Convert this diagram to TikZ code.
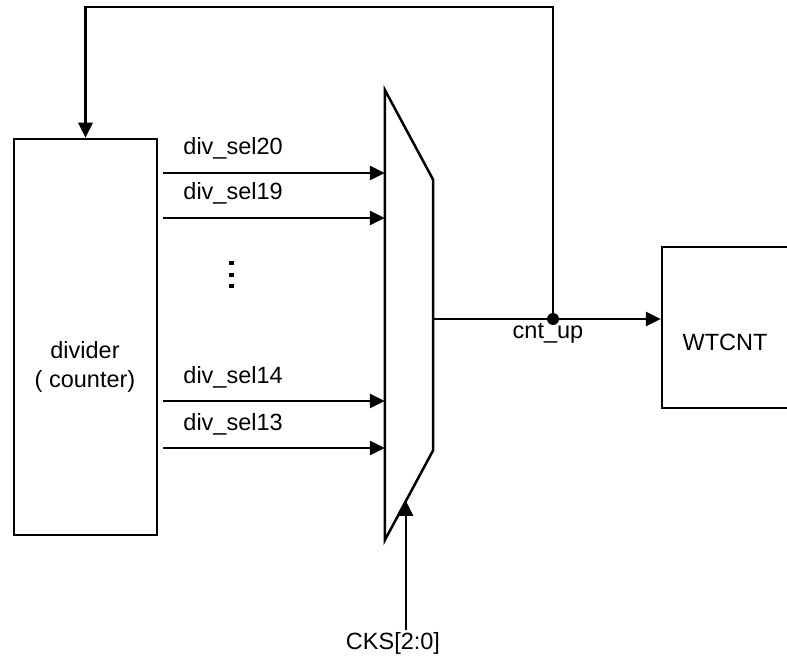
\documentclass[tikz,border=0pt]{standalone}
\usepackage{fontspec}
\setmainfont{Liberation Sans}
\usetikzlibrary{positioning,arrows.meta,calc}

\begin{document}
\begin{tikzpicture}[
  x=1pt, y=-1pt,
  font=\fontsize{23.5}{29}\selectfont,
  box/.style={draw, line width=2.5pt, inner sep=0pt},
  muxbox/.style={inner sep=0pt, minimum width=48pt, minimum height=450pt},
  sig/.style={anchor=base west, inner sep=0pt},
  arr/.style={-{Triangle[length=15pt, width=14pt]}, line width=2.6pt}]

\useasboundingbox (0,0) rectangle (787,660);

\node[box, minimum width=143pt, minimum height=396pt] (divider) at (85.5,337) {};
\node[align=center, inner sep=0pt] (divtext) at (85,367) {divider\\( counter)};

\node[muxbox] (mux) at (409,315) {};
\draw[line width=2.5pt, line join=miter]
  (mux.north west) -- ($(mux.north east)+(0,90)$) -- ($(mux.south east)+(0,-90)$)
  -- (mux.south west) -- cycle;

\node[box, minimum width=128pt, minimum height=161pt] (wtcnt) at (726,327.5) {};
\node[inner sep=0pt] (wtcnttext) at (725,342) {WTCNT};

\foreach \y/\name in {173/div\_sel20, 218/div\_sel19, 401/div\_sel14, 448/div\_sel13} {
  \draw[arr] ($(divider.east |- 0,\y)+(5,0)$) coordinate (in) -- (mux.west |- in);
  \node[sig] at ($(in)+(20,-18)$) {\name};
}

\foreach \y in {263,275,286}
  \fill (229,\y-2) rectangle ++(4.5,4.5);

\coordinate (jn) at (553,319);
\draw[arr] (mux.east |- jn) -- (wtcnt.west |- jn);
\draw[arr] (jn) -- ++(0,-312) -| (divider.north);
\fill (jn) circle (6pt);
\node[anchor=base, inner sep=0pt] (cntup) at (548,338) {cnt\_up};

\coordinate (sel) at ($($(mux.south east)+(0,-90)$)!0.5625!(mux.south west)$);
\node[inner sep=2pt] (cks) at (393,643) {CKS[2:0]};
\draw[arr] (sel |- cks.north) -- (sel);
\end{tikzpicture}
\end{document}
